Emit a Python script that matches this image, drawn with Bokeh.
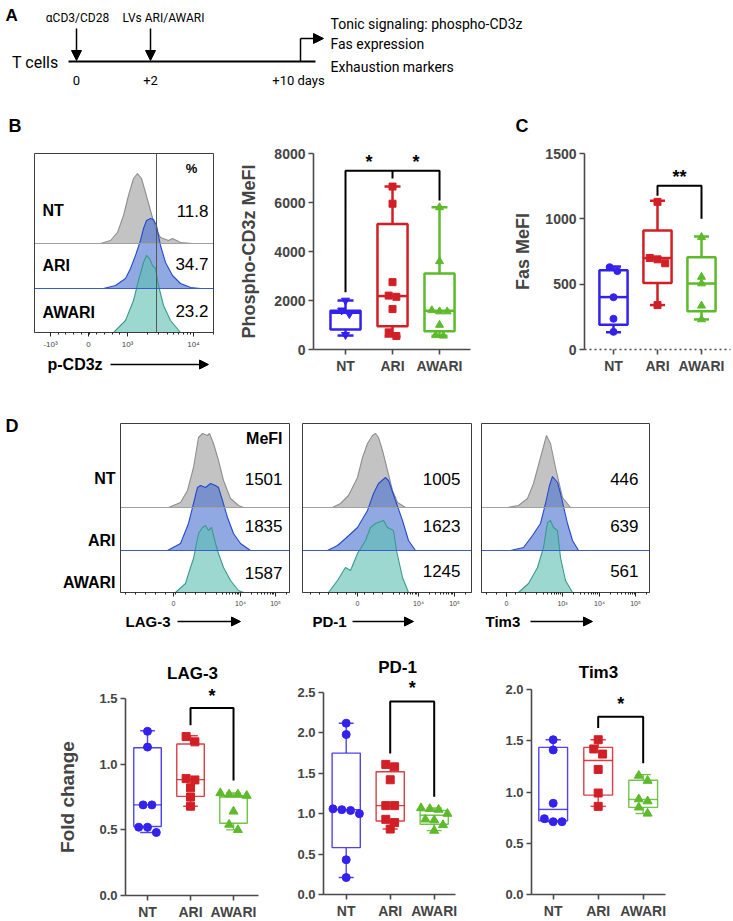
import numpy as np
from bokeh.plotting import figure
from bokeh.layouts import column, row
from bokeh.models import (Range1d, FixedTicker, Label, Arrow, NormalHead,
                          PrintfTickFormatter, LinearAxis)
from bokeh.embed import file_html
from bokeh.resources import INLINE

FONT = "Liberation Sans"
AFONT = "Roboto"

# ----------------------------- data -----------------------------
groups = ["NT", "ARI", "AWARI"]
group_colors = ["#3322ee", "#d21f26", "#5cba2b"]

# Panel A (schematic)
a_events = ["\u03b1CD3/CD28", "LVs ARI/AWARI"]
a_days = ["0", "+2", "+10 days"]
a_readouts = ["Tonic signaling: phospho-CD3z", "Fas expression", "Exhaustion markers"]

# Panel B flow histograms (p-CD3z): display channel, event height
pcd3z_nt_x = [66, 76, 83, 89, 94, 99, 103, 107, 111, 116, 121, 126, 134, 138, 146, 158]
pcd3z_nt_h = [0, 3, 11, 28, 48, 65, 70, 65, 51, 33, 15, 6, 3, 5, 1, 0]
pcd3z_ari_x = [69, 81, 91, 96, 101, 106, 109, 112, 116, 119, 122, 126, 131, 138, 146, 156, 166]
pcd3z_ari_h = [0, 3, 10, 20, 33, 48, 60, 68, 70, 69, 63, 43, 26, 13, 5, 1, 0]
pcd3z_awari_x = [79, 91, 99, 104, 109, 112, 115, 118, 121, 124, 129, 136, 146]
pcd3z_awari_h = [0, 12, 32, 52, 70, 77, 74, 67, 64, 47, 27, 12, 0]
pcd3z_pct = ["11.8", "34.7", "23.2"]
pcd3z_gate = 122
pcd3z_ticks = [16, 54, 93, 159]
pcd3z_tick_labels = ["-10\u00b3", "0", "10\u00b3", "10\u2074"]

# Panel B box plot: phospho-CD3z MeFI
pcd3z_vals = [[2000, 1600, 1450, 600],
              [6650, 5950, 2750, 2200, 2150, 1650, 700, 550],
              [5800, 3600, 1600, 1550, 1550, 1000, 580, 560]]
pcd3z_lo = [570, 530, 560]
pcd3z_q1 = [820, 950, 740]
pcd3z_med = [1500, 2180, 1580]
pcd3z_q3 = [1580, 5120, 3100]
pcd3z_hi = [2000, 6650, 5810]
pcd3z_yticks = [0, 2000, 4000, 6000, 8000]
pcd3z_sig_x = [1, 1, 3, 3]
pcd3z_sig_y = [2340, 7300, 7300, 6080]
pcd3z_sig_mid_y = [6980, 7300]
pcd3z_star_x = [1.5, 2.5]
pcd3z_star_y = 7650

# Panel C: Fas MeFI
fas_vals = [[630, 600, 400, 235, 135],
            [1130, 700, 690, 660, 340],
            [860, 555, 505, 335, 230]]
fas_lo = [132, 340, 230]
fas_q1 = [190, 508, 292]
fas_med = [401, 700, 505]
fas_q3 = [607, 910, 706]
fas_hi = [635, 1139, 865]
fas_yticks = [0, 500, 1000, 1500]
fas_sig_x = [2, 2, 3, 3]
fas_sig_y = [1177, 1253, 1253, 1000]
fas_star_y = 1320

# Panel D flow histograms
lag_nt_x = [48, 60, 67, 73, 78, 82, 87, 89, 93, 98, 103, 110, 118, 123]
lag_nt_h = [0, 5, 17, 40, 70, 74, 72, 74, 64, 47, 27, 9, 2, 0]
lag_ari_x = [47, 60, 68, 73, 77, 80, 85, 90, 95, 98, 102, 107, 113, 120, 130]
lag_ari_h = [0, 7, 27, 47, 63, 65, 63, 67, 65, 63, 50, 33, 17, 7, 0]
lag_awari_x = [55, 65, 70, 73, 78, 82, 85, 88, 91, 95, 98, 103, 110, 118, 123]
lag_awari_h = [0, 9, 25, 34, 59, 65, 67, 62, 65, 49, 39, 25, 12, 2, 0]
lag_mefi = ["1501", "1835", "1587"]
lag_ticks = [53, 120, 155]
lag_tick_labels = ["0", "10\u2074", "10\u2075"]

pd1_nt_x = [30, 38, 46, 55, 60, 65, 70, 73, 76, 80, 85, 90, 95, 103]
pd1_nt_h = [0, 4, 12, 30, 50, 64, 72, 74, 70, 57, 37, 17, 5, 0]
pd1_ari_x = [25, 35, 43, 55, 65, 71, 76, 83, 86, 93, 100, 106, 113]
pd1_ari_h = [0, 5, 12, 23, 40, 57, 67, 73, 70, 50, 30, 10, 0]
pd1_awari_x = [26, 35, 43, 48, 55, 63, 68, 73, 81, 85, 91, 94, 100, 106]
pd1_awari_h = [0, 12, 25, 22, 39, 52, 65, 69, 72, 65, 62, 42, 15, 0]
pd1_mefi = ["1005", "1623", "1245"]
pd1_ticks = [55, 116, 152]
pd1_tick_labels = ["0", "10\u2074", "10\u2075"]

tim3_nt_x = [26, 37, 46, 52, 59, 65, 69, 74, 81, 89]
tim3_nt_h = [0, 2, 9, 24, 50, 72, 64, 40, 10, 0]
tim3_ari_x = [29, 42, 51, 59, 64, 68, 71, 76, 79, 86, 91, 97]
tim3_ari_h = [0, 3, 15, 27, 47, 65, 74, 68, 57, 27, 10, 0]
tim3_awari_x = [37, 47, 56, 62, 66, 69, 72, 76, 79, 84, 91]
tim3_awari_h = [0, 9, 25, 45, 70, 72, 65, 62, 35, 12, 0]
tim3_mefi = ["446", "639", "561"]
tim3_ticks = [25, 81, 118, 154]
tim3_tick_labels = ["0", "10\u00b3", "10\u2074", "10\u2075"]

# Panel D box plots: fold change
lag_vals = [[1.25, 1.13, 0.69, 0.69, 0.52, 0.52, 0.48],
            [1.21, 1.17, 0.89, 0.88, 0.82, 0.75, 0.68],
            [0.78, 0.77, 0.77, 0.76, 0.64, 0.54, 0.50]]
lag_lo = [0.48, 0.68, 0.50]
lag_q1 = [0.525, 0.755, 0.55]
lag_med = [0.69, 0.882, 0.75]
lag_q3 = [1.125, 1.153, 0.76]
lag_hi = [1.255, 1.216, 0.78]
lag_sig_y = [1.297, 1.428, 1.428, 0.875]
lag_star_y = 1.52

pd1_vals = [[2.12, 1.98, 1.06, 1.05, 1.04, 1.0, 0.43, 0.21],
            [1.61, 1.58, 1.42, 1.10, 1.10, 0.93, 0.89, 0.81],
            [1.07, 1.06, 1.05, 1.0, 0.93, 0.92, 0.86, 0.79]]
pd1_lo = [0.21, 0.81, 0.79]
pd1_q1 = [0.58, 0.91, 0.87]
pd1_med = [1.05, 1.10, 0.98]
pd1_q3 = [1.75, 1.52, 1.04]
pd1_hi = [2.12, 1.61, 1.07]
pd1_sig_y = [1.745, 2.39, 2.39, 1.21]
pd1_star_y = 2.55

tim3_vals = [[1.51, 1.41, 0.89, 0.74, 0.71, 0.71],
             [1.51, 1.42, 1.37, 1.22, 0.99, 0.86],
             [1.16, 1.11, 0.93, 0.91, 0.85, 0.79]]
tim3_lo = [0.71, 0.86, 0.79]
tim3_q1 = [0.72, 0.97, 0.85]
tim3_med = [0.83, 1.307, 0.927]
tim3_q3 = [1.435, 1.435, 1.115]
tim3_hi = [1.51, 1.51, 1.17]
tim3_sig_y = [1.625, 1.733, 1.733, 1.28]
tim3_star_y = 1.857

# ----------------------------- helpers -----------------------------
hist_fill = ["#c3c3c3", "#4d74d2", "#5fc0b2"]
hist_line = ["#8f8f8f", "#2649c9", "#3a9a8c"]
hist_alpha = [1.0, 0.62, 0.62]


def lab(p, x, y, text, size, bold=False, align="left", font=FONT, baseline="middle", color="black"):
    p.add_layout(Label(x=x, y=y, text=text, text_font=font, text_font_size=size,
                       text_font_style="bold" if bold else "normal", text_align=align,
                       text_baseline=baseline, text_color=color))


def arrow(p, x0, y0, x1, y1, size=9, lw=1.5):
    p.add_layout(Arrow(end=NormalHead(size=size, fill_color="black", line_color="black", line_width=1),
                       x_start=x0, y_start=y0, x_end=x1, y_end=y1, line_width=lw, line_color="black"))


def log_minors(decades, step, hi):
    out = []
    for d in decades:
        for k in range(2, 10):
            v = d + step * np.log10(k)
            if 0 < v < hi:
                out.append(float(v))
    return out


def make_fig(g):
    """Figure whose frame fills the whole canvas; the inner plotting box (fl, ft, fw, fh)
    carries the data ranges xr / yr."""
    x0, x1 = g["xr"]
    y0, y1 = g["yr"]
    sx = (x1 - x0) / g["fw"]
    sy = (y1 - y0) / g["fh"]
    xr = Range1d(x0 - g["fl"] * sx, x1 + (g["W"] - g["fl"] - g["fw"]) * sx)
    yr = Range1d(y0 - (g["H"] - g["ft"] - g["fh"]) * sy, y1 + g["ft"] * sy)
    p = figure(width=g["W"], height=g["H"], x_range=xr, y_range=yr,
               x_axis_location=None, y_axis_location=None, min_border=0,
               output_backend="svg", toolbar_location=None)
    p.grid.visible = False
    p.outline_line_color = None
    return p


def style_axis(ax, color="#4a4a4a", lw=1.6):
    ax.axis_line_color = color
    ax.axis_line_width = lw
    ax.major_tick_line_color = color
    ax.major_tick_line_width = lw
    ax.major_tick_out = 5
    ax.major_tick_in = 0
    ax.minor_tick_line_color = None
    ax.major_label_text_font = FONT
    ax.major_label_text_font_style = "bold"
    ax.major_label_standoff = 3


def hist_panel(g, curves, bases, ticks, tick_labels, minors, tick_size):
    p = make_fig(g)
    for (xs, hs), base, fc, lc, al in zip(curves, bases, hist_fill, hist_line, hist_alpha):
        ys = [base + h for h in hs]
        p.varea(x=xs, y1=[base] * len(xs), y2=ys, fill_color=fc, fill_alpha=al)
        p.line(x=xs, y=ys, line_color=lc, line_width=1.1)
    x0, x1 = g["xr"]
    y0, y1 = g["yr"]
    p.segment(x0=[x0, x0], y0=[bases[0], bases[1]], x1=[x1, x1], y1=[bases[0], bases[1]],
              line_color=["#a0a0a0", "#3b5bd6"], line_width=1)
    p.quad(left=[x0], right=[x1], bottom=[y0], top=[y1], fill_color=None,
           line_color="#3c3c3c", line_width=1)
    ax = LinearAxis(fixed_location=y0, bounds=(x0, x1))
    p.add_layout(ax, "below")
    ax.ticker = FixedTicker(ticks=ticks, minor_ticks=minors)
    ax.major_label_overrides = dict(zip(ticks, tick_labels))
    ax.major_label_text_font = FONT
    ax.major_label_text_font_size = tick_size
    ax.major_label_standoff = 3
    ax.major_tick_out = 4
    ax.major_tick_in = 0
    ax.minor_tick_out = 2
    ax.minor_tick_in = 0
    ax.axis_line_color = "#3c3c3c"
    ax.major_tick_line_color = "#222222"
    ax.minor_tick_line_color = "#222222"
    return p


def swarm(vals, ypx, xppu, d):
    order = sorted(range(len(vals)), key=lambda i: -vals[i])
    offs = [0.0] * len(vals)
    clusters = []
    for i in order:
        if clusters and abs(vals[clusters[-1][0]] - vals[i]) * ypx < d * 0.8:
            clusters[-1].append(i)
        else:
            clusters.append([i])
    for c in clusters:
        n = len(c)
        for k, i in enumerate(c):
            offs[i] = (k - (n - 1) / 2) * d * 1.1 / xppu
    return offs


def box_panel(g, vals, lo, q1, med, q3, hi, mk, yticks, yfmt, lw, msize,
              tick_size="13px", xlab_size="14px", line_alpha=1.0, xdash=None):
    p = make_fig(g)
    x0, x1 = g["xr"]
    y0, y1 = g["yr"]
    xs = [1, 2, 3]
    hw, cw = 0.32, 0.17
    p.vbar(x=xs, width=2 * hw, bottom=q1, top=q3, fill_color=None, line_color=group_colors,
           line_width=lw, line_alpha=line_alpha)
    p.segment(x0=[x - hw for x in xs], y0=med, x1=[x + hw for x in xs], y1=med,
              line_color=group_colors, line_width=lw, line_alpha=line_alpha)
    p.segment(x0=xs, y0=q3, x1=xs, y1=hi, line_color=group_colors, line_width=lw, line_alpha=line_alpha)
    p.segment(x0=xs, y0=q1, x1=xs, y1=lo, line_color=group_colors, line_width=lw, line_alpha=line_alpha)
    p.segment(x0=[x - cw for x in xs], y0=hi, x1=[x + cw for x in xs], y1=hi,
              line_color=group_colors, line_width=lw, line_alpha=line_alpha)
    p.segment(x0=[x - cw for x in xs], y0=lo, x1=[x + cw for x in xs], y1=lo,
              line_color=group_colors, line_width=lw, line_alpha=line_alpha)
    ypx = g["fh"] / (y1 - y0)
    xppu = g["fw"] / (x1 - x0)
    for i in range(3):
        offs = swarm(vals[i], ypx, xppu, msize)
        size = msize + 1 if mk[i] in ("triangle", "inverted_triangle") else msize
        p.scatter(x=[xs[i] + o for o in offs], y=vals[i], marker=mk[i], size=size,
                  fill_color=group_colors[i], line_color=group_colors[i])
    ya = LinearAxis(fixed_location=x0, bounds=(y0, y1))
    p.add_layout(ya, "left")
    ya.ticker = FixedTicker(ticks=yticks)
    ya.formatter = PrintfTickFormatter(format=yfmt)
    xa = LinearAxis(fixed_location=y0, bounds=(x0, x1))
    p.add_layout(xa, "below")
    xa.ticker = FixedTicker(ticks=xs)
    xa.major_label_overrides = dict(zip(xs, groups))
    style_axis(xa)
    style_axis(ya)
    ya.major_label_text_font_size = tick_size
    xa.major_label_text_font_size = xlab_size
    if xdash:
        xa.axis_line_dash = xdash
    return p, ya


def bracket(p, xs, ys, lw=2.0):
    p.line(x=xs, y=ys, line_color="black", line_width=lw)


def ref2data(g, rx, ry):
    x = g["xr"][0] + (rx - g["ox"] - g["fl"]) / g["fw"] * (g["xr"][1] - g["xr"][0])
    y = g["yr"][1] - (ry - g["oy"] - g["ft"]) / g["fh"] * (g["yr"][1] - g["yr"][0])
    return x, y


# ----------------------------- Panel A -----------------------------
pa = make_fig(dict(W=733, H=108, fl=0, ft=0, fw=733, fh=108, xr=(0, 733), yr=(0, 108)))
day_pos = [76, 150, 298]
event_label_pos = [77, 163]
tl_y = 47
pa.line(x=[day_pos[0] - 8, day_pos[-1] + 17], y=[tl_y, tl_y], line_color="black", line_width=2.2)
for xp, lx, ev in zip(day_pos[:2], event_label_pos, a_events):
    arrow(pa, xp, 80, xp, tl_y + 1, size=10, lw=1.5)
    lab(pa, lx, 91, ev, "12px", align="center", font=AFONT)
for xp, d in zip(day_pos, a_days):
    lab(pa, xp, 28, d, "13px", align="center", font=AFONT)
bend_x = day_pos[-1] + 2
pa.line(x=[bend_x, bend_x], y=[tl_y, 70], line_color="black", line_width=1.5)
arrow(pa, bend_x, 70, bend_x + 23, 70, size=10, lw=1.5)
for yy, t in zip([85, 65, 42], a_readouts):
    lab(pa, 330, yy, t, "14px", font=AFONT)
lab(pa, 58, 46, "T cells", "16px", align="right", font=AFONT)
lab(pa, 5, 93, "A", "17px", bold=True)

# ----------------------------- Panel B histograms -----------------------------
b_minors = [float(v) for v in np.linspace(16, 93, 11)[1:-1]] + log_minors([93, 159], 66, 179)
gBh = dict(ox=0, oy=108, W=230, H=266, fl=34, ft=45, fw=179, fh=179, xr=(0, 179), yr=(0, 179))
pb1 = hist_panel(gBh,
                 [(pcd3z_nt_x, pcd3z_nt_h), (pcd3z_ari_x, pcd3z_ari_h), (pcd3z_awari_x, pcd3z_awari_h)],
                 [89, 44, 0], pcd3z_ticks, pcd3z_tick_labels, b_minors, "8px")
pb1.segment(x0=[pcd3z_gate], y0=[0], x1=[pcd3z_gate], y1=[179], line_color="#555555", line_width=1)
lab(pb1, -26, 207, "B", "18px", bold=True)
lab(pb1, 157, 164, "%", "13px", bold=True, align="center")
for yy, g_ in zip([122, 67, 20], groups):
    lab(pb1, 8, yy, g_, "16px", bold=True)
for yy, v in zip([122, 69, 22], pcd3z_pct):
    lab(pb1, 174, yy, v, "17px", align="right")
lab(pb1, 13, -32, "p-CD3z", "16px", bold=True)
arrow(pb1, 76, -32, 174, -32, size=9, lw=1.5)

# ----------------------------- Panel B box -----------------------------
gB = dict(ox=230, oy=108, W=252, H=266, fl=83, ft=45, fw=157, fh=196,
          xr=(0.319, 3.659), yr=(0, 8000))
pb2, yb = box_panel(gB, pcd3z_vals, pcd3z_lo, pcd3z_q1, pcd3z_med, pcd3z_q3, pcd3z_hi,
                    ["inverted_triangle", "square", "triangle"], pcd3z_yticks, "%d", 2.5, 7,
                    tick_size="14px", xlab_size="14px")
yb.axis_label = "Phospho-CD3z MeFI"
bracket(pb2, pcd3z_sig_x, pcd3z_sig_y)
bracket(pb2, [2, 2], pcd3z_sig_mid_y)
for sx in pcd3z_star_x:
    lab(pb2, sx, pcd3z_star_y, "*", "18px", bold=True, align="center")

# ----------------------------- Panel C -----------------------------
gC = dict(ox=482, oy=108, W=251, H=266, fl=102, ft=45, fw=146, fh=196,
          xr=(0.341, 3.659), yr=(0, 1500))
pc, yc = box_panel(gC, fas_vals, fas_lo, fas_q1, fas_med, fas_q3, fas_hi,
                   ["circle", "square", "triangle"], fas_yticks, "%d", 2.5, 7,
                   tick_size="14px", xlab_size="14px", xdash="2 3")
yc.axis_label = "Fas MeFI"
bracket(pc, fas_sig_x, fas_sig_y)
lab(pc, 2.5, fas_star_y, "**", "18px", bold=True, align="center")
cx, cy = ref2data(gC, 515, 125)
lab(pc, cx, cy, "C", "18px", bold=True)

for ya_, st in ((yb, 12), (yc, 9)):
    ya_.axis_label_text_font = FONT
    ya_.axis_label_text_font_style = "bold"
    ya_.axis_label_text_font_size = "18px"
    ya_.axis_label_standoff = st

# ----------------------------- Panel D histograms -----------------------------
lag_minors = [float(v) for v in np.linspace(5, 85, 9)] + log_minors([85, 120, 155], 35, 169)
pd1_minors = [float(v) for v in np.linspace(8, 80, 9)] + log_minors([80, 116, 152], 36, 169)
tim3_minors = [float(v) for v in np.linspace(5, 44, 5)] + log_minors([44, 81, 118, 154], 37, 168)

gD1 = dict(ox=0, oy=374, W=292, H=258, fl=120, ft=49, fw=169, fh=169, xr=(0, 169), yr=(0, 169))
pd_1 = hist_panel(gD1, [(lag_nt_x, lag_nt_h), (lag_ari_x, lag_ari_h), (lag_awari_x, lag_awari_h)],
                  [85, 42, 0], lag_ticks, lag_tick_labels, lag_minors, "7px")
lab(pd_1, -115, 167, "D", "18px", bold=True)
for yy, g_ in zip([114, 52, 10], groups):
    lab(pd_1, -5, yy, g_, "16px", bold=True, align="right")
lab(pd_1, 162, 154, "MeFI", "16px", bold=True, align="right")
for yy, v in zip([114, 67, 20], lag_mefi):
    lab(pd_1, 162, yy, v, "17px", align="right")
lab(pd_1, 5, -29, "LAG-3", "15px", bold=True)
arrow(pd_1, 57, -29, 120, -29, size=9, lw=1.5)

gD2 = dict(ox=292, oy=374, W=184, H=258, fl=10, ft=49, fw=169, fh=169, xr=(0, 169), yr=(0, 169))
pd_2 = hist_panel(gD2, [(pd1_nt_x, pd1_nt_h), (pd1_ari_x, pd1_ari_h), (pd1_awari_x, pd1_awari_h)],
                  [85, 42, 0], pd1_ticks, pd1_tick_labels, pd1_minors, "7px")
for yy, v in zip([114, 67, 22], pd1_mefi):
    lab(pd_2, 158, yy, v, "17px", align="right")
lab(pd_2, 10, -29, "PD-1", "15px", bold=True)
arrow(pd_2, 50, -29, 111, -29, size=9, lw=1.5)

gD3 = dict(ox=476, oy=374, W=257, H=258, fl=5, ft=49, fw=168, fh=169, xr=(0, 168), yr=(0, 169))
pd_3 = hist_panel(gD3, [(tim3_nt_x, tim3_nt_h), (tim3_ari_x, tim3_ari_h), (tim3_awari_x, tim3_awari_h)],
                  [85, 42, 0], tim3_ticks, tim3_tick_labels, tim3_minors, "7px")
for yy, v in zip([114, 67, 22], tim3_mefi):
    lab(pd_3, 157, yy, v, "17px", align="right")
lab(pd_3, 4, -29, "Tim3", "15px", bold=True)
arrow(pd_3, 49, -29, 111, -29, size=9, lw=1.5)

# ----------------------------- Panel D box plots -----------------------------
mk = ["circle", "square", "triangle"]
gL = dict(ox=0, oy=632, W=280, H=289, fl=125, ft=66, fw=133, fh=197,
          xr=(0.488, 3.581), yr=(0, 1.5))
pe1, yl = box_panel(gL, lag_vals, lag_lo, lag_q1, lag_med, lag_q3, lag_hi, mk,
                    [0, 0.5, 1.0, 1.5], "%.1f", 1.4, 8, line_alpha=0.85)
bracket(pe1, [2, 2, 3, 3], lag_sig_y)
lab(pe1, 2.5, lag_star_y, "*", "18px", bold=True, align="center")
tx, ty = ref2data(gL, 192, 673)
lab(pe1, tx, ty, "LAG-3", "17px", bold=True, align="center")
yl.axis_label = "Fold change"
yl.axis_label_text_font = FONT
yl.axis_label_text_font_style = "bold"
yl.axis_label_text_font_size = "19px"
yl.axis_label_standoff = 18

gP = dict(ox=280, oy=632, W=195, H=289, fl=43, ft=60, fw=132, fh=202,
          xr=(0.484, 3.484), yr=(0, 2.5))
pe2, _ = box_panel(gP, pd1_vals, pd1_lo, pd1_q1, pd1_med, pd1_q3, pd1_hi, mk,
                   [0, 0.5, 1.0, 1.5, 2.0, 2.5], "%.1f", 1.4, 8, line_alpha=0.85)
bracket(pe2, [2, 2, 3, 3], pd1_sig_y)
lab(pe2, 2.5, pd1_star_y, "*", "18px", bold=True, align="center")
tx, ty = ref2data(gP, 397, 667)
lab(pe2, tx, ty, "PD-1", "17px", bold=True, align="center")

gT = dict(ox=475, oy=632, W=258, H=289, fl=56, ft=57, fw=134, fh=205,
          xr=(0.518, 3.496), yr=(0, 2.0))
pe3, _ = box_panel(gT, tim3_vals, tim3_lo, tim3_q1, tim3_med, tim3_q3, tim3_hi, mk,
                   [0, 0.5, 1.0, 1.5, 2.0], "%.1f", 1.4, 8, line_alpha=0.85)
bracket(pe3, [2, 2, 3, 3], tim3_sig_y)
lab(pe3, 2.5, tim3_star_y, "*", "18px", bold=True, align="center")
tx, ty = ref2data(gT, 598, 672)
lab(pe3, tx, ty, "Tim3", "17px", bold=True, align="center")

layout = column(
    pa,
    row(pb1, pb2, pc),
    row(pd_1, pd_2, pd_3),
    row(pe1, pe2, pe3),
)

open("out.html", "w").write(file_html(layout, INLINE))
